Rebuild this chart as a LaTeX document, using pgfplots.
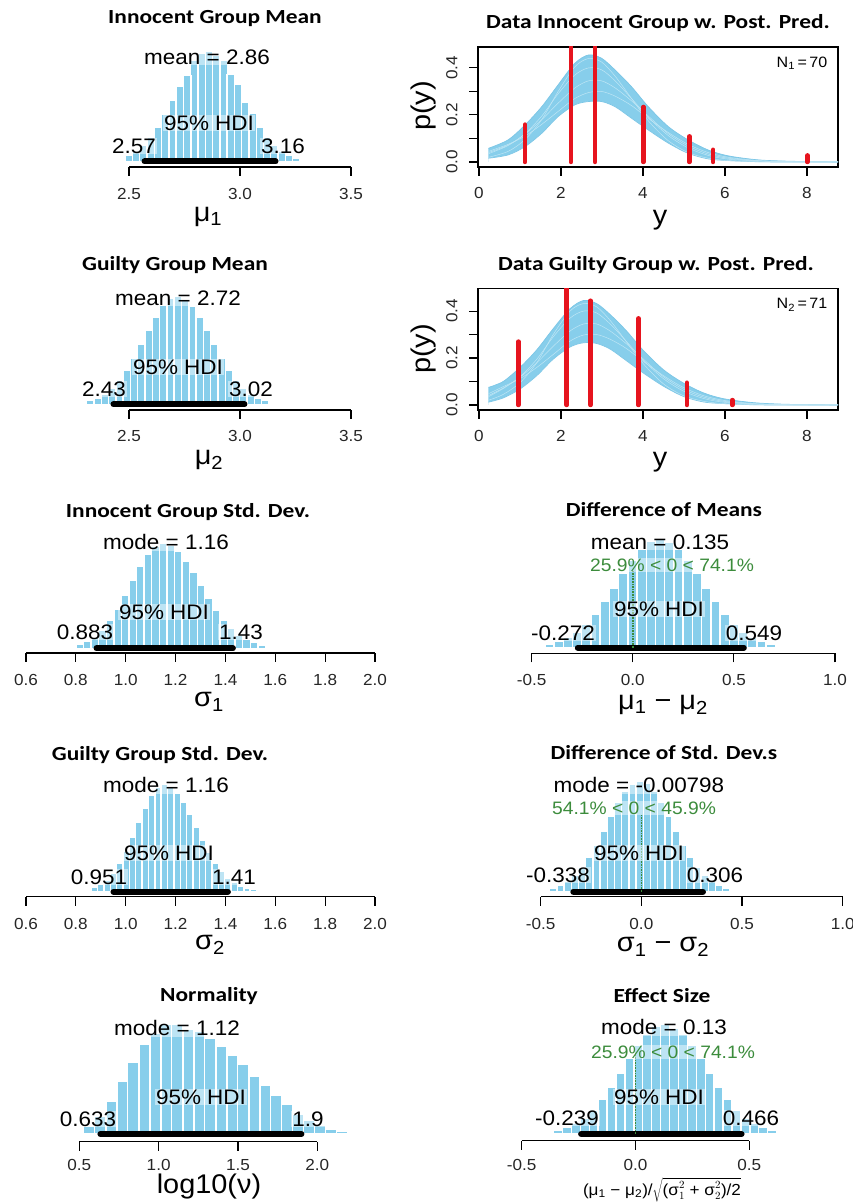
\documentclass[border=0pt]{standalone}
\usepackage{pgfplots}
\pgfplotsset{compat=1.18}
\usepackage{fontspec}
\setmainfont{Liberation Sans}
\newfontfamily\ArialF{Liberation Sans}[FakeStretch=1.07]
\newfontfamily\TitleF{Carlito}[FakeStretch=1.17]
\definecolor{sky}{HTML}{87CEEB}
\definecolor{skyd}{HTML}{7CC6E6}
\definecolor{skyl}{HTML}{BFE6F5}
\definecolor{rred}{HTML}{E6141E}
\definecolor{dgreen}{HTML}{3C8C3C}
\newcommand\TickF{\ArialF\fontsize{16}{16}\selectfont}
\pgfplotsset{
  hist/.style={anchor=south west, scale only axis, axis x line*=bottom, axis y line=none,
    clip=false, x axis line style={-, line width=1.1pt}, tick align=outside,
    major tick length=9pt, tick style={black, line width=1.1pt},
    xticklabel style={font=\TickF, text=black!85}, ymax=120},
  bars/.style={ybar, fill=sky, draw=white, line width=1.4pt},
  hdi/.style={black, line width=6pt, line cap=round},
  dat/.style={anchor=south west, scale only axis, width=360pt, xmin=-0.024, xmax=8.756,
    ymin=-0.0213, axis line style={line width=1.1pt}, tick align=outside,
    major tick length=9pt, tick style={black, line width=1.1pt},
    xtick={0,2,4,6,8}, xticklabels={0,2,4,6,8}, ytick={0,0.1,0.2,0.3,0.4},
    yticklabels={0.0,,0.2,,0.4}, xtick pos=left, ytick pos=left,
    xticklabel style={font=\TickF, text=black!85, yshift=-8pt},
    yticklabel shift=8pt,
    yticklabel style={font=\TickF, text=black!85, rotate=90, anchor=south}},
  envu/.style={draw=none, fill=sky, smooth},
  envl/.style={draw=none, fill=white, smooth},
  edge/.style={skyd, line width=0.7pt, smooth},
  inner/.style={skyl, line width=0.5pt, smooth},
  comb/.style={ycomb, rred, line width=4.5pt, line cap=round},
  dotl/.style={dgreen, densely dotted, line width=1.6pt},
}
\tikzset{
  tit/.style={font=\TitleF\bfseries\fontsize{20}{20}\selectfont, inner sep=0pt},
  t21/.style={font=\ArialF\fontsize{21}{21}\selectfont, inner sep=1pt, fill=white, fill opacity=0.45, text opacity=1},
  tg/.style={font=\ArialF\fontsize{18}{18}\selectfont, text=dgreen, inner sep=1pt, fill=white, fill opacity=0.45, text opacity=1},
  xl/.style={font=\ArialF\fontsize{27}{27}\selectfont, inner sep=0pt},
}
\begin{document}
\begin{tikzpicture}[x=1pt,y=1pt]
\path[use as bounding box] (0,0) rectangle (853,1202);

% ---------- P1 Innocent Group Mean
\begin{axis}[hist, at={(129pt,1035pt)}, width=222pt, height=125.5pt, xmin=2.5, xmax=3.5, ymin=-5.5,
  xtick={2.5,3.0,3.5}, xticklabels={2.5,3.0,3.5}, xticklabel style={yshift=-9pt}]
\addplot[bars, bar width=0.0328] coordinates {(2.499,6.2) (2.532,10.3) (2.565,16.1) (2.598,24.1) (2.630,34.4) (2.663,46.8) (2.696,60.8) (2.729,75.3) (2.762,86) (2.794,101) (2.827,108) (2.860,110) (2.893,106) (2.926,101) (2.958,87) (2.991,77) (3.024,59) (3.057,48) (3.090,34.4) (3.122,24.1) (3.155,16.1) (3.188,10.3) (3.221,6.2) (3.254,3.6)};
\addplot[hdi] coordinates {(2.57,0) (3.16,0)};
\end{axis}

% ---------- P2 Guilty Group Mean
\begin{axis}[hist, at={(129pt,792pt)}, width=222pt, height=125.7pt, xmin=2.5, xmax=3.5, ymin=-5.7,
  xtick={2.5,3.0,3.5}, xticklabels={2.5,3.0,3.5}, xticklabel style={yshift=-8pt}]
\addplot[bars, bar width=0.0328] coordinates {(2.326,3.6) (2.359,6.1) (2.392,10.1) (2.425,15.8) (2.458,23.7) (2.490,33.8) (2.523,46) (2.556,59.7) (2.589,73.9) (2.622,87.2) (2.654,99) (2.687,106) (2.720,108) (2.753,104) (2.786,98.2) (2.818,87.2) (2.851,73.9) (2.884,59.7) (2.917,46) (2.950,33.8) (2.982,23.7) (3.015,15.8) (3.048,10.1) (3.081,6.1) (3.114,3.6)};
\addplot[hdi] coordinates {(2.43,0) (3.02,0)};
\end{axis}

% ---------- P3 Innocent Group Std. Dev.
\begin{axis}[hist, at={(26pt,549pt)}, width=349pt, height=124.7pt, xmin=0.6, xmax=2.0, ymin=-4.7,
  xtick={0.6,0.8,1.0,1.2,1.4,1.6,1.8,2.0}, xticklabels={0.6,0.8,1.0,1.2,1.4,1.6,1.8,2.0}, xticklabel style={yshift=-9pt}]
\addplot[bars, bar width=0.0304] coordinates {(0.8156,3.8) (0.846,6.8) (0.8764,11.4) (0.9068,18.3) (0.9372,27.5) (0.9676,39.3) (0.998,53) (1.0284,67.8) (1.0588,82.1) (1.0892,94.1) (1.1196,102.2) (1.15,105) (1.1804,102.9) (1.2108,96.7) (1.2412,87.3) (1.2716,75.6) (1.302,62.9) (1.3324,50.2) (1.3628,38.3) (1.3932,28.2) (1.4236,20) (1.454,13.4) (1.4844,8.7) (1.5148,5.5) (1.5452,3.3)};
\addplot[hdi] coordinates {(0.883,0) (1.43,0)};
\end{axis}

% ---------- P4 Guilty Group Std. Dev.
\begin{axis}[hist, at={(26pt,305.3pt)}, width=349pt, height=125pt, xmin=0.6, xmax=2.0, ymin=-5,
  xtick={0.6,0.8,1.0,1.2,1.4,1.6,1.8,2.0}, xticklabels={0.6,0.8,1.0,1.2,1.4,1.6,1.8,2.0}, xticklabel style={yshift=-9pt}]
\addplot[bars, bar width=0.0255] coordinates {(0.8745,3.9) (0.9,7) (0.9255,11.6) (0.951,18.6) (0.9765,28) (1.002,40) (1.0275,54) (1.053,69.1) (1.0785,83.7) (1.104,95.9) (1.1295,104.1) (1.155,107) (1.1805,104.9) (1.206,98.5) (1.2315,89) (1.257,77) (1.2825,64.1) (1.308,51.1) (1.3335,39) (1.359,28.7) (1.3845,20.4) (1.41,13.7) (1.4355,8.9) (1.461,5.6) (1.4865,3.3) (1.512,2)};
\addplot[hdi] coordinates {(0.951,0) (1.41,0)};
\end{axis}

% ---------- P5 Normality
\begin{axis}[hist, at={(79.3pt,60.3pt)}, width=238pt, height=127.7pt, xmin=0.5, xmax=2.0, ymin=-7.7,
  xtick={0.5,1.0,1.5,2.0}, xticklabels={0.5,1.0,1.5,2.0}, xticklabel style={yshift=-5pt}]
\addplot[bars, bar width=0.0693] coordinates {(0.563,8) (0.632,18) (0.702,33) (0.771,53) (0.840,72) (0.910,89.5) (0.979,101) (1.048,109.5) (1.117,110) (1.187,105) (1.256,103) (1.325,96) (1.395,88) (1.464,78.5) (1.533,70) (1.603,58) (1.672,48.5) (1.741,38.5) (1.810,29.5) (1.880,19.5) (1.949,14) (2.018,8.5) (2.087,5) (2.157,2.5)};
\addplot[hdi] coordinates {(0.633,0) (1.9,0)};
\end{axis}

% ---------- P6 Data Innocent
\begin{axis}[dat, at={(478pt,1035pt)}, height=120pt, ymax=0.489]
\addplot[envu] coordinates {(0.23,0.058) (0.71,0.094) (1.12,0.157) (1.53,0.235) (1.93,0.328) (2.34,0.420) (2.67,0.455) (2.99,0.441) (3.32,0.391) (3.72,0.320) (4.13,0.235) (4.62,0.150) (5.10,0.094) (5.59,0.051) (6.08,0.026) (6.81,0.009) (7.63,0.003) (8.76,0.000)} \closedcycle;
\addplot[envl] coordinates {(0.23,0.016) (0.71,0.030) (1.12,0.065) (1.53,0.122) (1.93,0.193) (2.34,0.243) (2.67,0.257) (2.99,0.257) (3.32,0.235) (3.72,0.186) (4.13,0.136) (4.62,0.080) (5.10,0.037) (5.59,0.013) (6.08,0.006) (6.81,0.001) (7.63,0.000) (8.76,0.000)} \closedcycle;
\addplot[edge] coordinates {(0.23,0.058) (0.71,0.094) (1.12,0.157) (1.53,0.235) (1.93,0.328) (2.34,0.420) (2.67,0.455) (2.99,0.441) (3.32,0.391) (3.72,0.320) (4.13,0.235) (4.62,0.150) (5.10,0.094) (5.59,0.051) (6.08,0.026) (6.81,0.009) (7.63,0.003) (8.76,0.000)};
\addplot[edge] coordinates {(0.23,0.016) (0.71,0.030) (1.12,0.065) (1.53,0.122) (1.93,0.193) (2.34,0.243) (2.67,0.257) (2.99,0.257) (3.32,0.235) (3.72,0.186) (4.13,0.136) (4.62,0.080) (5.10,0.037) (5.59,0.013) (6.08,0.006) (6.81,0.001) (7.63,0.000) (8.76,0.000)};
\addplot[inner] coordinates {(0.23,0.035) (0.71,0.070) (1.12,0.120) (1.53,0.195) (1.93,0.290) (2.34,0.370) (2.67,0.400) (2.99,0.392) (3.32,0.345) (3.72,0.270) (4.13,0.190) (4.62,0.112) (5.10,0.060) (5.59,0.028) (6.08,0.012) (6.81,0.004) (7.63,0.001) (8.76,0)};
\addplot[inner] coordinates {(0.23,0.040) (0.71,0.072) (1.12,0.118) (1.53,0.180) (1.93,0.250) (2.34,0.315) (2.67,0.345) (2.99,0.345) (3.32,0.315) (3.72,0.260) (4.13,0.195) (4.62,0.120) (5.10,0.068) (5.59,0.034) (6.08,0.016) (6.81,0.005) (7.63,0.001) (8.76,0)};
\addplot[inner] coordinates {(0.23,0.045) (0.71,0.075) (1.12,0.110) (1.53,0.160) (1.93,0.215) (2.34,0.270) (2.67,0.295) (2.99,0.300) (3.32,0.280) (3.72,0.240) (4.13,0.185) (4.62,0.125) (5.10,0.075) (5.59,0.040) (6.08,0.020) (6.81,0.006) (7.63,0.002) (8.76,0)};
\addplot[inner] coordinates {(0.23,0.020) (0.71,0.045) (1.12,0.095) (1.53,0.180) (1.93,0.300) (2.34,0.405) (2.67,0.440) (2.99,0.425) (3.32,0.365) (3.72,0.270) (4.13,0.175) (4.62,0.090) (5.10,0.040) (5.59,0.016) (6.08,0.006) (6.81,0.001) (7.63,0) (8.76,0)};
\addplot[comb] coordinates {(1.12,0.159) (2.24,0.6) (2.83,0.6) (4.01,0.234) (5.13,0.109) (5.71,0.052) (8.01,0.028)};
\end{axis}

% ---------- P7 Data Guilty
\begin{axis}[dat, at={(478pt,792pt)}, height=121.7pt, ymax=0.497]
\addplot[envu] coordinates {(0.23,0.075) (0.59,0.100) (1.00,0.160) (1.41,0.235) (1.81,0.325) (2.22,0.410) (2.55,0.445) (2.87,0.432) (3.20,0.385) (3.60,0.315) (4.01,0.232) (4.50,0.150) (4.98,0.094) (5.47,0.052) (5.96,0.027) (6.69,0.010) (7.51,0.003) (8.76,0.000)} \closedcycle;
\addplot[envl] coordinates {(0.23,0.012) (0.59,0.030) (1.00,0.068) (1.41,0.125) (1.81,0.195) (2.22,0.247) (2.55,0.265) (2.87,0.262) (3.20,0.238) (3.60,0.188) (4.01,0.136) (4.50,0.080) (4.98,0.037) (5.47,0.013) (5.96,0.006) (6.69,0.001) (7.51,0.000) (8.76,0.000)} \closedcycle;
\addplot[edge] coordinates {(0.23,0.075) (0.59,0.100) (1.00,0.160) (1.41,0.235) (1.81,0.325) (2.22,0.410) (2.55,0.445) (2.87,0.432) (3.20,0.385) (3.60,0.315) (4.01,0.232) (4.50,0.150) (4.98,0.094) (5.47,0.052) (5.96,0.027) (6.69,0.010) (7.51,0.003) (8.76,0.000)};
\addplot[edge] coordinates {(0.23,0.012) (0.59,0.030) (1.00,0.068) (1.41,0.125) (1.81,0.195) (2.22,0.247) (2.55,0.265) (2.87,0.262) (3.20,0.238) (3.60,0.188) (4.01,0.136) (4.50,0.080) (4.98,0.037) (5.47,0.013) (5.96,0.006) (6.69,0.001) (7.51,0.000) (8.76,0.000)};
\addplot[inner] coordinates {(0.23,0.035) (0.59,0.070) (1.00,0.120) (1.41,0.195) (1.81,0.290) (2.22,0.370) (2.55,0.400) (2.87,0.392) (3.20,0.345) (3.60,0.270) (4.01,0.190) (4.50,0.112) (4.98,0.060) (5.47,0.028) (5.96,0.012) (6.69,0.004) (7.51,0.001) (8.76,0)};
\addplot[inner] coordinates {(0.23,0.040) (0.59,0.072) (1.00,0.118) (1.41,0.180) (1.81,0.250) (2.22,0.315) (2.55,0.345) (2.87,0.345) (3.20,0.315) (3.60,0.260) (4.01,0.195) (4.50,0.120) (4.98,0.068) (5.47,0.034) (5.96,0.016) (6.69,0.005) (7.51,0.001) (8.76,0)};
\addplot[inner] coordinates {(0.23,0.048) (0.59,0.078) (1.00,0.112) (1.41,0.160) (1.81,0.215) (2.22,0.272) (2.55,0.298) (2.87,0.300) (3.20,0.280) (3.60,0.240) (4.01,0.185) (4.50,0.125) (4.98,0.075) (5.47,0.040) (5.96,0.020) (6.69,0.006) (7.51,0.002) (8.76,0)};
\addplot[inner] coordinates {(0.23,0.020) (0.59,0.045) (1.00,0.095) (1.41,0.180) (1.81,0.300) (2.22,0.400) (2.55,0.432) (2.87,0.418) (3.20,0.360) (3.60,0.268) (4.01,0.175) (4.50,0.090) (4.98,0.040) (5.47,0.016) (5.96,0.006) (6.69,0.001) (7.51,0) (8.76,0)};
\addplot[comb] coordinates {(0.96,0.27) (2.14,0.6) (2.72,0.444) (3.89,0.369) (5.07,0.095) (6.18,0.021)};
\end{axis}

% ---------- P8 Difference of Means
\begin{axis}[hist, at={(531.7pt,548.7pt)}, width=303.3pt, height=125.6pt, xmin=-0.5, xmax=1.0, ymin=-5.6,
  xtick={-0.5,0,0.5,1.0}, xticklabels={-0.5,0.0,0.5,1.0}, xticklabel style={yshift=-9pt}]
\addplot[bars, bar width=0.0456] coordinates {(-0.4122,3.6) (-0.3666,6.1) (-0.321,10.1) (-0.2754,15.8) (-0.2298,23.7) (-0.1842,33.8) (-0.1386,46) (-0.093,59.7) (-0.0474,73.9) (-0.0018,87.2) (0.0438,98.2) (0.0894,106) (0.135,108) (0.1806,105) (0.2262,98.2) (0.2718,87.2) (0.3174,73.9) (0.363,59.7) (0.4086,46) (0.4542,33.8) (0.4998,23.7) (0.5454,15.8) (0.591,10.1) (0.6366,6.1) (0.6822,3.6)};
\addplot[hdi] coordinates {(-0.272,0) (0.549,0)};
\addplot[dotl] coordinates {(0,0) (0,78)};
\end{axis}

% ---------- P9 Difference of Std. Dev.s
\begin{axis}[hist, at={(540.7pt,305.3pt)}, width=302pt, height=125pt, xmin=-0.5, xmax=1.0, ymin=-5,
  xtick={-0.5,0,0.5,1.0}, xticklabels={-0.5,0.0,0.5,1.0}, xticklabel style={yshift=-9pt}]
\addplot[bars, bar width=0.0358] coordinates {(-0.4376,3.6) (-0.4018,6.2) (-0.366,10.3) (-0.3302,16.1) (-0.2944,24.1) (-0.2586,34.4) (-0.2228,46.8) (-0.187,60.8) (-0.1512,75.3) (-0.1154,88.9) (-0.0796,100) (-0.0438,107) (-0.008,110) (0.0278,108) (0.0636,100) (0.0994,88.9) (0.1352,75.3) (0.171,60.8) (0.2068,46.8) (0.2426,34.4) (0.2784,24.1) (0.3142,16.1) (0.35,10.3) (0.3858,6.2) (0.4216,3.6)};
\addplot[hdi] coordinates {(-0.338,0) (0.306,0)};
\addplot[dotl] coordinates {(0,0) (0,77)};
\end{axis}

% ---------- P10 Effect Size
\begin{axis}[hist, at={(521.7pt,61.3pt)}, width=227.6pt, height=126.7pt, xmin=-0.5, xmax=0.5, ymin=-6.7,
  xtick={-0.5,0,0.5}, xticklabels={-0.5,0.0,0.5}, xticklabel style={yshift=-6pt}]
\addplot[bars, bar width=0.0392] coordinates {(-0.3404,3.6) (-0.3012,6.2) (-0.262,10.3) (-0.2228,16.1) (-0.1836,24.1) (-0.1444,34.4) (-0.1052,46.8) (-0.066,60.8) (-0.0268,75.3) (0.0124,88.9) (0.0516,100) (0.0908,107.4) (0.13,110) (0.1692,106) (0.2084,100) (0.2476,88.9) (0.2868,75.3) (0.326,60.8) (0.3652,46.8) (0.4044,34.4) (0.4436,24.1) (0.4828,16.1) (0.522,10.3) (0.5612,6.2) (0.6004,3.6)};
\addplot[hdi] coordinates {(-0.239,0) (0.466,0)};
\addplot[dotl] coordinates {(0,0) (0,81)};
\end{axis}

% ---------- texts left column
\node[tit] at (215,1183) {Innocent Group Mean};
\node[t21] at (207,1145) {mean = 2.86};
\node[t21] at (209,1079) {95\% HDI};
\node[t21] at (134,1056) {2.57};
\node[t21] at (283,1056) {3.16};
\node[xl] at (208,985) {μ\textsubscript{1}};

\node[tit] at (175,937) {Guilty Group Mean};
\node[t21] at (178,904) {mean = 2.72};
\node[t21] at (178,835) {95\% HDI};
\node[t21] at (104,813) {2.43};
\node[t21] at (251,813) {3.02};
\node[xl] at (209,742) {μ\textsubscript{2}};

\node[tit] at (188,690) {Innocent Group Std. Dev.};
\node[t21] at (166,660) {mode = 1.16};
\node[t21] at (164,590) {95\% HDI};
\node[t21] at (85,570) {0.883};
\node[t21] at (241,570) {1.43};
\node[xl] at (209,500) {σ\textsubscript{1}};

\node[tit] at (160,447) {Guilty Group Std. Dev.};
\node[t21] at (166,417) {mode = 1.16};
\node[t21] at (169,349) {95\% HDI};
\node[t21] at (99,325) {0.951};
\node[t21] at (234,325) {1.41};
\node[xl] at (210,257) {σ\textsubscript{2}};

\node[tit] at (209,206) {Normality};
\node[t21] at (177,174) {mode = 1.12};
\node[t21] at (201,105) {95\% HDI};
\node[t21] at (88,83) {0.633};
\node[t21] at (308,83) {1.9};
\node[xl] at (209,15) {log10(ν)};

% ---------- texts right column
\node[tit] at (658,1179) {Data Innocent Group w. Post. Pred.};
\node[font=\ArialF\fontsize{15}{15}\selectfont] at (802,1139) {N\textsubscript{1}\,=\,70};
\node[xl, rotate=90] at (424,1096) {p(y)};
\node[xl] at (660,982) {y};

\node[tit] at (656,937) {Data Guilty Group w. Post. Pred.};
\node[font=\ArialF\fontsize{15}{15}\selectfont] at (802,897) {N\textsubscript{2}\,=\,71};
\node[xl, rotate=90] at (424,853) {p(y)};
\node[xl] at (660,740) {y};

\node[tit] at (664,692) {Difference of Means};
\node[t21] at (660,660) {mean = 0.135};
\node[tg] at (672,637) {25.9\% < 0 < 74.1\%};
\node[t21] at (659,593) {95\% HDI};
\node[t21] at (563,569) {-0.272};
\node[t21] at (754,569) {0.549};
\node[xl] at (663,497) {μ\textsubscript{1} − μ\textsubscript{2}};

\node[tit] at (664,449) {Difference of Std. Dev.s};
\node[t21] at (639,417) {mode = -0.00798};
\node[tg] at (634,394) {54.1\% < 0 < 45.9\%};
\node[t21] at (639,349) {95\% HDI};
\node[t21] at (558,327) {-0.338};
\node[t21] at (715,327) {0.306};
\node[xl] at (663,255) {σ\textsubscript{1} − σ\textsubscript{2}};

\node[tit] at (662,206) {Effect Size};
\node[t21] at (664,175) {mode = 0.13};
\node[tg] at (673,150) {25.9\% < 0 < 74.1\%};
\node[t21] at (659,105) {95\% HDI};
\node[t21] at (567,84) {-0.239};
\node[t21] at (751,84) {0.466};
\node[font=\ArialF\fontsize{16}{16}\selectfont, inner sep=0pt] at (662,12) {(μ\textsubscript{1} − μ\textsubscript{2})/$\sqrt{\mbox{(σ${}^2_1$ + σ${}^2_2$)/2}}$};
\end{tikzpicture}
\end{document}
